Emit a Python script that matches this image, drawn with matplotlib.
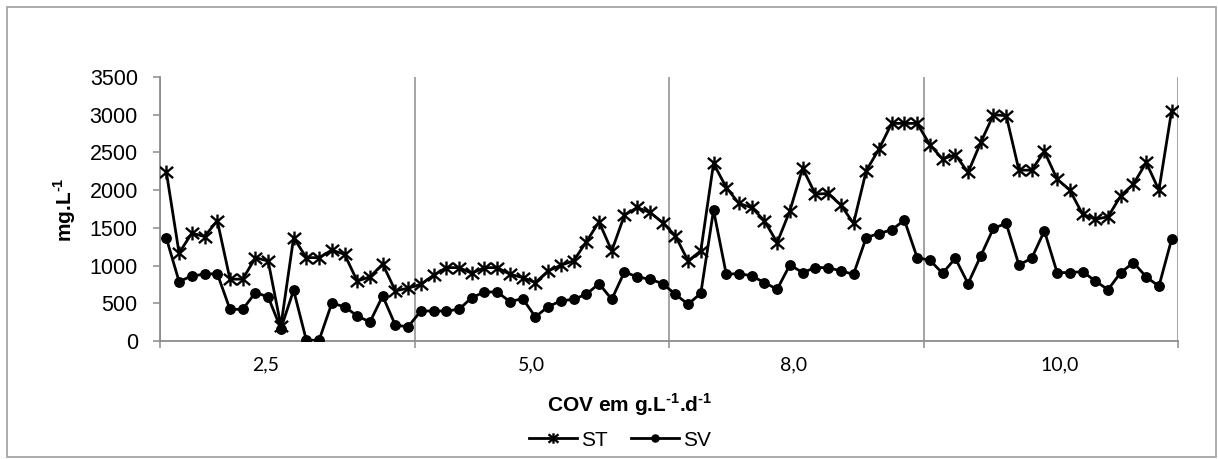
import matplotlib

matplotlib.use("Agg")
import matplotlib.pyplot as plt
import numpy as np
from matplotlib.patches import Rectangle
from matplotlib.path import Path


GROUPS = ["2,5", "5,0", "8,0", "10,0"]
POINTS_PER_GROUP = 20

ST = [
    2240, 1165, 1430, 1385, 1595, 820, 820, 1105, 1060, 200,
    1370, 1105, 1105, 1205, 1150, 795, 850, 1020, 665, 700,
    752, 872, 973, 973, 898, 973, 973, 885, 841, 774,
    929, 1004, 1062, 1314, 1580, 1195, 1668, 1770, 1704, 1571,
    1394, 1062, 1195, 2354, 2035, 1823, 1770, 1593, 1305, 1726,
    2292, 1947, 1956, 1805, 1558, 2257, 2544, 2885, 2885, 2885,
    2602, 2412, 2469, 2235, 2633, 3000, 2987, 2265, 2265, 2513,
    2146, 2000, 1681, 1615, 1646, 1925, 2080, 2367, 2000, 3053,
]
SV = [
    1363, 788, 863, 885, 894, 420, 420, 642, 584, 164,
    673, 10, 10, 500, 456, 332, 252, 597, 208, 190,
    398, 398, 398, 420, 575, 650, 650, 522, 562, 319,
    456, 531, 553, 619, 761, 553, 916, 850, 819, 761,
    619, 487, 633, 1735, 885, 894, 863, 774, 686, 1009,
    907, 973, 973, 929, 885, 1372, 1425, 1473, 1602, 1106,
    1071, 898, 1097, 761, 1128, 1496, 1558, 1009, 1097, 1460,
    907, 907, 920, 796, 681, 907, 1040, 850, 726, 1350,
]
Y_TICKS = [0, 500, 1000, 1500, 2000, 2500, 3000, 3500]

# where the group labels sit along the category axis (layout)
LABEL_POS = [8.3, 29.2, 49.8, 70.7]

W, H = 1218, 459
GREY = "#8c8c8c"
SANS = ["Liberation Sans", "DejaVu Sans"]


def star_marker() -> Path:
    # excel style asterisk: an X with a vertical bar through it
    verts = [(-1, -0.85), (1, 0.85), (-1, 0.85), (1, -0.85), (0, -1.05), (0, 1.05)]
    codes = [Path.MOVETO, Path.LINETO, Path.MOVETO, Path.LINETO, Path.MOVETO, Path.LINETO]
    return Path(verts, codes)


def main() -> None:
    plt.rcParams["font.family"] = SANS
    # only the bold axis titles use mathtext (for the superscripts)
    plt.rcParams["mathtext.fontset"] = "custom"
    plt.rcParams["mathtext.rm"] = "Liberation Sans:bold"
    plt.rcParams["mathtext.bf"] = "Liberation Sans:bold"

    fig = plt.figure(figsize=(W / 100, H / 100), dpi=100)
    ax = fig.add_axes([160 / W, 1 - 341 / H, 1018 / W, 264 / H])

    x = np.arange(len(ST)) + 0.5
    ax.plot(x, ST, color="black", lw=2.0, marker=star_marker(), ms=10, mew=1.7,
            mfc="none", mec="black", label="ST", zorder=3)
    ax.plot(x, SV, color="black", lw=2.0, marker="o", ms=6.8, mec="black",
            mfc="black", label="SV", zorder=3)

    n = len(ST)
    ax.set_xlim(0, n)
    ax.set_ylim(0, 3500)
    ax.set_yticks(Y_TICKS)
    ax.tick_params(axis="y", direction="out", length=5, width=1.1, color=GREY,
                   pad=11, labelsize=15.5)

    ax.set_xticks(np.arange(0, n + 1, POINTS_PER_GROUP))
    ax.set_xticklabels([])
    ax.tick_params(axis="x", which="major", direction="out", length=5, width=1.1, color=GREY)
    ax.set_xticks(LABEL_POS, minor=True)
    ax.set_xticklabels(GROUPS, minor=True, fontfamily="Lato", fontsize=14)
    ax.tick_params(axis="x", which="minor", length=0, pad=11)
    ax.grid(axis="x", which="major", color=GREY, lw=1.1)

    for side in ["top", "right"]:
        ax.spines[side].set_visible(False)
    for side in ["left", "bottom"]:
        ax.spines[side].set_color(GREY)
        ax.spines[side].set_linewidth(1.3)

    fig.text(65 / W, 1 - 210 / H, r"mg.L$^{\text{-1}}$", rotation=90, ha="center", va="center",
             fontsize=15, fontweight="bold")
    fig.text(630 / W, 1 - 405 / H, r"COV em g.L$^{\text{-1}}$.d$^{\text{-1}}$", ha="center",
             va="center", fontsize=15, fontweight="bold")

    fig.legend(loc="center", bbox_to_anchor=(620 / W, 1 - 440 / H), ncol=2, frameon=False,
               fontsize=15, handlelength=2.3, handletextpad=0.2, columnspacing=1.1,
               markerscale=0.75)

    fig.patches.append(Rectangle((7 / W, 1 - 457 / H), 1209 / W, 450 / H, transform=fig.transFigure,
                                 fill=False, edgecolor="#a6a6a6", lw=1.3))

    fig.savefig("out.png", dpi=100)
    plt.close(fig)


if __name__ == "__main__":
    main()
